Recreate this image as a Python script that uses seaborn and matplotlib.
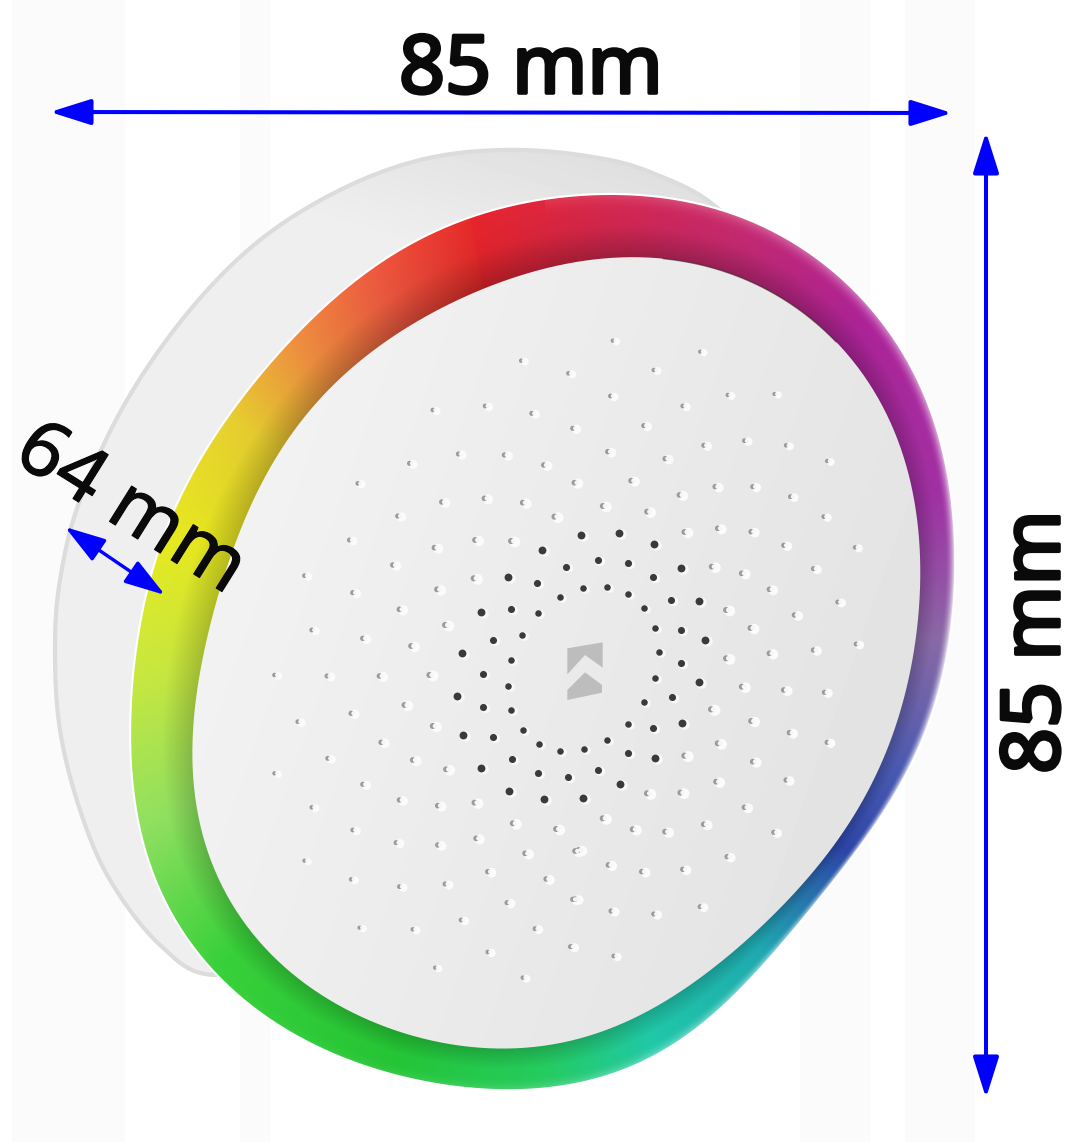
import numpy as np
import pandas as pd
import matplotlib
matplotlib.use('Agg')
import matplotlib.pyplot as plt
import matplotlib.patheffects as pe
import seaborn as sns
from matplotlib.colors import to_rgb
from matplotlib.patches import PathPatch, Polygon
from matplotlib.path import Path

# Outlines (pixels)
body_outline = [(800, 320), (725, 215), (650, 172), (580, 155), (500, 150), (420, 160), (340, 190), (260, 240),
                (190, 310), (127, 400), (80, 500), (60, 580), (55, 650), (60, 730), (80, 810),
                (110, 880), (160, 945), (215, 975), (320, 950), (500, 700)]
ring_outline = [(600, 197), (640, 198), (707, 203), (773, 233), (840, 280), (890, 333), (923, 393), (947, 477),
                (955, 590), (945, 660), (910, 763), (872, 833), (833, 883), (783, 933),
                (747, 983), (660, 1055), (590, 1078), (510, 1088), (430, 1083), (350, 1060),
                (280, 1025), (220, 975), (175, 920), (148, 860), (135, 780), (132, 700), (140, 620),
                (165, 540), (200, 460), (250, 390), (310, 320), (380, 265), (450, 225), (530, 202)]
face_outline = [(640, 257), (707, 267), (773, 292), (840, 347), (890, 420), (913, 493), (920, 580),
                (908, 683), (887, 750), (853, 817), (803, 883), (737, 950), (683, 988), (640, 1015),
                (570, 1042), (490, 1048), (410, 1035), (340, 1005), (307, 988), (273, 957), (240, 913),
                (205, 850), (195, 770), (195, 690), (215, 610), (240, 533), (273, 460), (323, 397),
                (373, 350), (420, 320), (480, 290), (570, 263)]

# Ring colour by angle, clockwise from straight up
ring_angles = [-10, 25, 45, 70, 90, 110, 125, 145, 165, 180, 200, 225, 245, 265, 285, 305, 320, 335, 350]
ring_colors = ['#e8252c', '#c82a70', '#b0249a', '#a232a5', '#8a6aa8', '#4a5ab0', '#2d45a8', '#1fa8b0',
               '#20c8a8', '#25cc60', '#25c535', '#38d03a', '#90e060', '#c8e840', '#e8ea20', '#e8d030',
               '#f09040', '#ef5a40', '#e82a2a']

# Speaker holes, in zoomed crop coordinates (3x)
dark_ring1 = [(428, 265), (500, 260), (563, 283), (613, 325), (646, 385), (657, 457), (646, 535), (613, 607),
              (565, 673), (502, 720), (431, 747), (361, 752), (298, 733), (248, 690), (213, 630), (203, 557),
              (212, 480), (247, 405), (295, 340), (359, 292)]
dark_ring2 = [(378, 200), (473, 180), (563, 190), (639, 232), (693, 300), (723, 390), (723, 490), (695, 590),
              (640, 685), (565, 760), (475, 810), (383, 830), (293, 820), (217, 778), (160, 710), (130, 622),
              (130, 522), (158, 420), (213, 327), (290, 250)]
dark_ring3 = [(307, 150), (423, 105), (538, 100), (641, 133), (724, 205), (777, 302), (795, 420), (778, 547),
              (726, 668), (645, 775), (541, 853), (428, 893), (313, 897), (207, 873), (123, 804), (68, 706),
              (50, 587), (67, 458), (122, 335), (203, 230)]
light_nw = [(850, 122), (992, 160), (585, 270), (742, 258), (882, 280), (1005, 325), (662, 402), (800, 405),
            (918, 435), (1010, 488), (515, 430), (360, 490), (612, 546), (740, 535), (855, 548), (950, 590),
            (480, 588), (335, 660), (590, 683), (712, 660), (820, 663), (465, 735), (200, 767), (345, 818),
            (598, 808), (708, 775), (485, 868), (222, 930), (375, 955), (520, 978), (622, 915)]
light_ne = [(135, 62), (397, 95), (258, 150), (128, 228), (480, 225), (620, 222), (345, 258), (228, 317),
            (408, 376), (530, 362), (655, 376), (778, 423), (120, 395), (292, 416), (190, 482), (442, 500),
            (555, 500), (668, 530), (335, 525), (105, 558), (238, 575), (768, 590), (350, 636), (450, 625),
            (550, 635), (648, 676), (862, 682), (432, 740), (522, 760), (737, 746), (605, 808), (810, 846),
            (475, 870), (680, 885), (548, 924), (865, 972), (737, 990), (605, 1000), (475, 1015)]
light_sw = [(110, 75), (268, 78), (425, 78), (575, 75), (500, 165), (340, 190), (180, 215), (585, 228),
            (430, 277), (270, 325), (525, 330), (625, 358), (110, 370), (375, 403), (485, 450), (600, 467),
            (710, 458), (222, 472), (825, 520), (955, 537), (345, 540), (475, 578), (600, 585), (715, 565),
            (862, 610), (1012, 603), (200, 632), (750, 665), (925, 687), (340, 688), (485, 710), (622, 702),
            (808, 758), (1005, 748), (670, 810), (892, 836), (525, 838), (365, 833), (750, 906), (1000, 890),
            (592, 953), (855, 983)]
light_se = [(522, 110), (648, 120), (770, 127), (430, 178), (550, 213), (665, 248), (778, 277), (450, 280),
            (350, 317), (555, 335), (445, 395), (655, 390), (338, 428), (238, 430), (530, 472), (105, 505),
            (195, 538), (292, 545), (408, 523), (618, 547), (32, 600), (478, 620), (122, 645), (222, 665),
            (345, 658), (22, 747), (130, 783), (258, 792), (397, 770), (8, 890), (138, 918)]
logo_top = [(382, 445), (488, 427), (488, 503), (435, 465), (382, 523)]
logo_bottom = [(382, 600), (382, 570), (435, 517), (486, 555), (486, 578)]


def smooth_closed(points, n=12, harmonics=None):
    # closed Catmull-Rom through the outline points, optional low-pass to iron out reading errors
    p = np.array(points, dtype=float)
    t = np.linspace(0, 1, n, endpoint=False)[:, None]
    out = []
    for i in range(len(p)):
        p0, p1, p2, p3 = p[i - 1], p[i], p[(i + 1) % len(p)], p[(i + 2) % len(p)]
        out.append(0.5 * (2 * p1 + (p2 - p0) * t + (2 * p0 - 5 * p1 + 4 * p2 - p3) * t ** 2
                          + (3 * p1 - p0 - 3 * p2 + p3) * t ** 3))
    curve = np.vstack(out)
    if harmonics is None:
        return curve
    closed = np.vstack([curve, curve[:1]])
    arc = np.r_[0, np.cumsum(np.hypot(*np.diff(closed, axis=0).T))]
    s = np.linspace(0, arc[-1], 512, endpoint=False)
    smooth = []
    for i in range(2):
        spec = np.fft.rfft(np.interp(s, arc, closed[:, i]))
        spec[harmonics + 1:] = 0
        smooth.append(np.fft.irfft(spec, 512))
    return np.column_stack(smooth)


def crop(points, x0, y0):
    p = np.array(points, dtype=float) / 3
    return pd.DataFrame({'x': p[:, 0] + x0, 'y': p[:, 1] + y0})


def polar(outline, cx, cy):
    a = np.degrees(np.arctan2(outline[:, 0] - cx, cy - outline[:, 1])) % 360
    r = np.hypot(outline[:, 0] - cx, outline[:, 1] - cy)
    order = np.argsort(a)
    return a[order], r[order]


sns.set_theme(style='white')
plt.rcParams['font.family'] = ['Noto Sans', 'DejaVu Sans']

fig = plt.figure(figsize=(10.7, 11.42), dpi=100, facecolor='white')
ax = fig.add_axes([0, 0, 1, 1])
ax.set_facecolor('white')

# faint vertical bands of the photo background
for left, right in [(12, 125), (240, 270), (800, 870), (905, 975)]:
    ax.axvspan(left, right, color='#fbfbfb', lw=0, zorder=0)

body = smooth_closed(body_outline)
ring = smooth_closed(ring_outline, harmonics=7)
face = smooth_closed(face_outline, harmonics=7)

X, Y = np.meshgrid(np.arange(1070) + 0.5, np.arange(1142) + 0.5)

# body, a little darker along its top edge
body_shade = np.interp(Y - 0.3 * X, [-50, 120], [0.865, 0.935])
im0 = ax.imshow(body_shade, cmap='gray', vmin=0, vmax=1, extent=(0, 1070, 1142, 0), aspect='auto', zorder=1)
im0.set_clip_path(PathPatch(Path(body), transform=ax.transData))
ax.add_patch(Polygon(body, closed=True, fc='none', ec='#dcdcdc', lw=3, zorder=1.2))
ax.add_patch(Polygon(ring, closed=True, fc='white', ec='white', lw=3, zorder=1.5))

# ring image: colour from the angle, shading from the place across the band
cx, cy = 545, 640
theta = np.degrees(np.arctan2(X - cx, cy - Y)) % 360
dist = np.hypot(X - cx, Y - cy)
a_in, r_in = polar(face, cx, cy)
a_out, r_out = polar(ring, cx, cy)
r0 = np.interp(theta, a_in, r_in, period=360)
r1 = np.interp(theta, a_out, r_out, period=360)
across = np.clip((dist - r0) / (r1 - r0), 0, 1)

stop_c = np.array([to_rgb(c) for c in ring_colors])
lookup = np.where(theta >= 350, theta - 360, theta)
rgb = np.dstack([np.interp(lookup, ring_angles, stop_c[:, i]) for i in range(3)])
top = np.exp(-(((theta + 180) % 360 - 180) / 70) ** 2)
shade = 0.82 + 0.18 * np.clip(across / 0.5, 0, 1) - 0.08 * top * (1 - across)
rgb = rgb * shade[..., None]
right_side = np.exp(-((theta - 100) / 65) ** 2)
fade = np.clip((across - 0.72) / 0.28, 0, 1) ** 2 * right_side * 0.85
rgb = rgb * (1 - fade[..., None]) + fade[..., None]
im = ax.imshow(np.clip(rgb, 0, 1), extent=(0, 1070, 1142, 0), aspect='auto', zorder=2, interpolation='bilinear')
im.set_clip_path(PathPatch(Path(ring), transform=ax.transData))

# face with a soft left to right falloff
grad = np.interp(X + 0.35 * Y, [350, 1200], [0.955, 0.885])
im2 = ax.imshow(grad, cmap='gray', vmin=0, vmax=1, extent=(0, 1070, 1142, 0), aspect='auto', zorder=3)
im2.set_clip_path(PathPatch(Path(face), transform=ax.transData))
ax.plot(face[5:48, 0], face[5:48, 1], color='#40202a', lw=1, alpha=0.6, zorder=4)

# light dimples: white lip, grey hollow
light = pd.concat([crop(light_nw, 240, 320), crop(light_ne, 570, 320),
                   crop(light_sw, 240, 650), crop(light_se, 570, 650)], ignore_index=True)
spread = np.hypot(light['x'] - 585, light['y'] - 672)
scale = np.clip(1.25 - spread / 400, 0.35, 1.0)
sns.scatterplot(data=light.assign(x=light['x'] + 1.5, y=light['y'] + 1), x='x', y='y', ax=ax, s=70 * scale,
                color='#fbfbfb', linewidth=0, zorder=5, legend=False)
sns.scatterplot(data=light.assign(x=light['x'] - 2.2), x='x', y='y', ax=ax, s=22 * scale,
                color='#9a9a9a', linewidth=0, zorder=6, legend=False)
sns.scatterplot(data=light, x='x', y='y', ax=ax, s=13 * scale,
                color='#f6f6f6', linewidth=0, zorder=7, legend=False)

# dark holes around the logo
for points, size in [(dark_ring1, 22), (dark_ring2, 26), (dark_ring3, 32)]:
    dark = crop(points, 440, 500)
    sns.scatterplot(data=dark.assign(x=dark['x'] + 2, y=dark['y'] + 1), x='x', y='y', ax=ax, s=size * 1.8,
                    color='#f8f8f8', linewidth=0, zorder=5, legend=False)
    sns.scatterplot(data=dark, x='x', y='y', ax=ax, s=size, color='#3a3a3a', linewidth=0, zorder=6, legend=False)

for shape in (logo_top, logo_bottom):
    ax.add_patch(Polygon(crop(shape, 440, 500).values, closed=True, fc='#bdbdbd', ec='none', zorder=6))

# dimension arrows
arrows = [((50, 112), (952, 113), 2.9), ((986, 132), (986, 1098), 2.9), ((65, 527), (165, 595), 2.4)]
for start, end, width in arrows:
    ax.annotate('', xy=end, xytext=start, zorder=8,
                arrowprops=dict(arrowstyle='<|-|>,head_length=0.57,head_width=0.18', color='#0000ff', lw=width,
                                mutation_scale=44, shrinkA=0, shrinkB=0))

# Noto Sans ships no bold face here, so thicken the strokes
bold = [pe.withStroke(linewidth=2.6, foreground='#0a0a0a')]
ax.text(531, 72, '85 mm', fontsize=58, color='#0a0a0a', ha='center', va='center', zorder=9, path_effects=bold)
ax.text(1038, 642, '85 mm', fontsize=58, color='#0a0a0a', ha='center', va='center', rotation=90, zorder=9,
        path_effects=bold)
ax.text(130, 510, '64 mm', fontsize=56, color='#0a0a0a', ha='center', va='center', rotation=-32,
        rotation_mode='anchor', zorder=9, path_effects=[pe.withStroke(linewidth=0.8, foreground='#0a0a0a')])

ax.set_xlim(0, 1070)
ax.set_ylim(1142, 0)
ax.axis('off')
fig.savefig('out.png', dpi=100, facecolor=fig.get_facecolor())
